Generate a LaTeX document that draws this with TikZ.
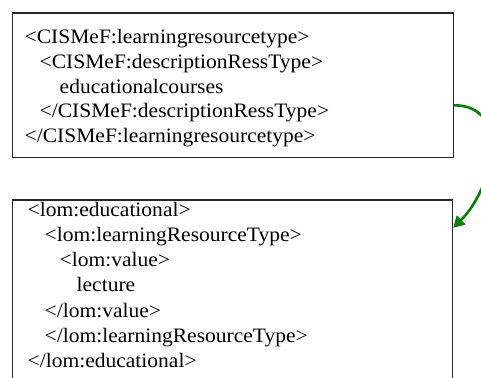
\documentclass[tikz,border=0pt]{standalone}
\usepackage{fontspec}
\setmainfont{Liberation Serif}
\usetikzlibrary{calc,arrows.meta}
\definecolor{arrowgreen}{RGB}{0,128,0}
\newcommand\xmlstretch[1]{\scalebox{1.05}[1]{#1}}
\tikzset{
  xmlbox/.style={draw=black!85, line width=1.3pt, anchor=north west, inner sep=0pt},
  xmlline/.style={anchor=base west, inner sep=0pt, font=\fontsize{20.5}{24}\selectfont},
  convarrow/.style={draw=arrowgreen, line width=2.6pt, -{Triangle[length=11pt,width=12pt]}}
}
\begin{document}
\begin{tikzpicture}[x=1pt,y=-1pt]
\useasboundingbox (0,0) rectangle (481,377);
\clip (0,0) rectangle (481,377);
\node[xmlbox, minimum width=441pt, minimum height=144.5pt] (top) at (11.7,12.3) {};
\node[xmlbox, minimum width=440.3pt, minimum height=200pt] (bot) at (11.7,199.3) {};
% top text
\node[xmlline] (t1) at (24.5,44) {\xmlstretch{<CISMeF:learningresourcetype>}};
\node[xmlline] (t2) at (39.5,68.5) {\xmlstretch{<CISMeF:descriptionRessType>}};
\node[xmlline] (t3) at (59.5,93) {\xmlstretch{educationalcourses}};
\node[xmlline] (t4) at (39.5,117.5) {\xmlstretch{</CISMeF:descriptionRessType>}};
\node[xmlline] (t5) at (24.5,142) {\xmlstretch{</CISMeF:learningresourcetype>}};
% bottom text
\node[xmlline] (b1) at (27.5,216) {\xmlstretch{<lom:educational>}};
\node[xmlline] (b2) at (44.5,241.3) {\xmlstretch{<lom:learningResourceType>}};
\node[xmlline] (b3) at (59.5,266.6) {\xmlstretch{<lom:value>}};
\node[xmlline] (b4) at (76.5,291.9) {\xmlstretch{lecture}};
\node[xmlline] (b5) at (44.5,317.2) {\xmlstretch{</lom:value>}};
\node[xmlline] (b6) at (44.5,342.5) {\xmlstretch{</lom:learningResourceType>}};
\node[xmlline] (b7) at (27.5,367.8) {\xmlstretch{</lom:educational>}};
% arrow
\coordinate (from) at ($(top.north east)+(0,93)$);
\coordinate (to) at ($(bot.north east)+(0,28.5)$);
\draw[convarrow] (from) to[out=0,in=45,looseness=1.2] (to);
\end{tikzpicture}
\end{document}
